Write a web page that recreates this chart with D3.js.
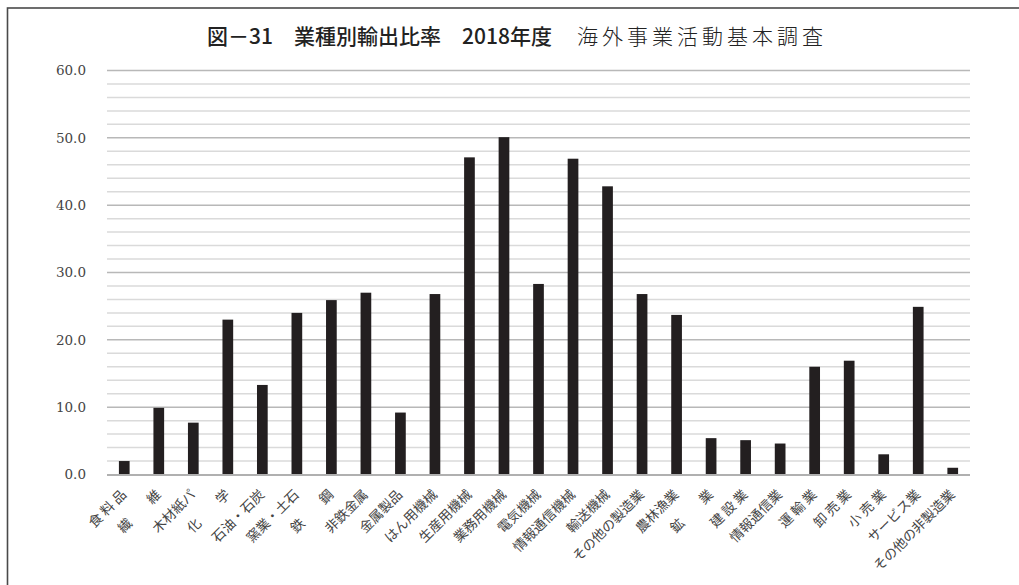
<!DOCTYPE html>
<html><head><meta charset="utf-8">
<script src="https://cdn.jsdelivr.net/npm/d3@7"></script>
<style>
html,body{margin:0;padding:0;background:#fff;}
svg{display:block;}
text{white-space:pre;}
</style></head>
<body>
<svg id="chart" width="1019" height="585"></svg>
<script>
const categories = ["食 料 品","繊　　維","木材紙パ","化　　学","石油・石炭","窯業・土石","鉄　　鋼","非鉄金属","金属製品","はん用機械","生産用機械","業務用機械","電気機械","情報通信機械","輸送機械","その他の製造業","農林漁業","鉱　　業","建 設 業","情報通信業","運 輸 業","卸 売 業","小 売 業","サービス業","その他の非製造業"];
const values = [2.0, 9.9, 7.7, 23.0, 13.3, 24.0, 25.9, 27.0, 9.2, 26.8, 47.1, 50.1, 28.3, 46.9, 42.8, 26.8, 23.7, 5.4, 5.1, 4.6, 16.0, 16.9, 3.0, 24.9, 1.0];
const majorTicks = [0, 10, 20, 30, 40, 50, 60];
const minorTicks = [2,4,6,8,12,14,16,18,22,24,26,28,32,34,36,38,42,44,46,48,52,54,56,58];
const titleBold = "図－31　業種別輸出比率　2018年度";
const titleLight = "海外事業活動基本調査";

const svg = d3.select("#chart");
const pLeft = 107, pRight = 970, pTop = 70.5, pBottom = 474.5;

const x = d3.scaleBand().domain(categories).range([pLeft, pRight]).paddingInner(0.69).paddingOuter(0.345);
const y = d3.scaleLinear().domain([0, 60]).range([pBottom, pTop]);

// frame
svg.append("rect").attr("x", 7.5).attr("y", 8).attr("width", 1100).attr("height", 700)
  .attr("fill", "none").attr("stroke", "#4a4a4a").attr("stroke-width", 1.6);

// gridlines
svg.append("g").selectAll("line").data(minorTicks).join("line")
  .attr("x1", pLeft).attr("x2", pRight).attr("y1", d => y(d)).attr("y2", d => y(d))
  .attr("stroke", "#dadada").attr("stroke-width", 1.5);
svg.append("g").selectAll("line").data(majorTicks.filter(d => d > 0)).join("line")
  .attr("x1", pLeft).attr("x2", pRight).attr("y1", d => y(d)).attr("y2", d => y(d))
  .attr("stroke", "#b8b8b8").attr("stroke-width", 1.5);

// bars
svg.append("g").selectAll("rect").data(values).join("rect")
  .attr("x", (d, i) => x(categories[i]))
  .attr("width", x.bandwidth())
  .attr("y", d => y(d))
  .attr("height", d => y(0) - y(d))
  .attr("fill", "#231f20");

// zero axis line
svg.append("line").attr("x1", pLeft).attr("x2", pRight).attr("y1", y(0) + 0.5).attr("y2", y(0) + 0.5)
  .attr("stroke", "#b0b0b0").attr("stroke-width", 2);

// y labels
const fmt = d3.format(".1f");
svg.append("g").selectAll("text").data(majorTicks).join("text")
  .attr("x", 86).attr("y", d => y(d)).attr("dy", "0.35em")
  .attr("text-anchor", "end")
  .attr("font-family", "'DejaVu Serif', serif")
  .attr("font-size", 13.5).attr("font-weight", 400).attr("fill", "#444")
  .text(d => fmt(d));

// x labels
svg.append("g").selectAll("text").data(categories).join("text")
  .attr("transform", d => `translate(${x(d) + x.bandwidth() / 2 + 3},${pBottom + 21}) rotate(-45)`)
  .attr("text-anchor", "end")
  .attr("font-family", "'Noto Sans CJK JP', sans-serif")
  .attr("font-size", 13.5).attr("font-weight", 400).attr("fill", "#444")
  .text(d => d);

// title
const t = svg.append("text").attr("x", 517).attr("y", 44).attr("text-anchor", "middle")
  .attr("font-family", "'Noto Sans CJK JP', sans-serif").attr("font-size", 21).attr("fill", "#222");
t.append("tspan").attr("font-weight", 500).text(titleBold);
t.append("tspan").attr("font-weight", 300).attr("letter-spacing", 4).text("　" + titleLight);
</script>
</body></html>
